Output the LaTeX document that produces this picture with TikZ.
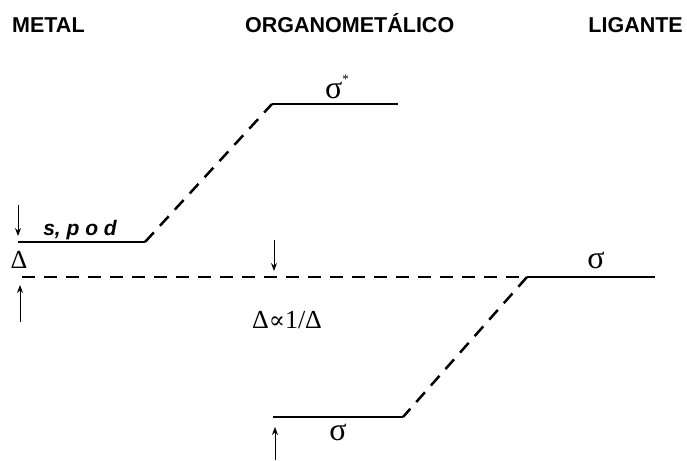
\documentclass[tikz,border=0pt]{standalone}
\usepackage{fontspec}
\setmainfont{Liberation Serif}
\newfontfamily\headfont{Liberation Sans}
\newfontfamily\symfont{DejaVu Serif}
\usetikzlibrary{arrows.meta}
\begin{document}
\begin{tikzpicture}[x=1pt,y=-1pt,
  level/.style={line width=2.5pt},
  conn/.style={line width=2.5pt,dash pattern=on 13pt off 9pt},
  gap/.style={line width=0.9pt,-{Stealth[length=8pt,width=6pt]}},
  head/.style={font=\headfont\bfseries\fontsize{21.5}{25}\selectfont,inner sep=0pt},
  sym/.style={font=\fontsize{32}{36}\selectfont,inner sep=0pt}]
\useasboundingbox (0,0) rectangle (687,460);
% headings
\node[head,anchor=base west] (hmetal) at (12,33) {METAL};
\node[head,anchor=base west] (horg) at (245,33) {ORGANOMETÁLICO};
\node[head,anchor=base east] (hlig) at (683,33) {LIGANTE};
% level end points
\coordinate (m1) at (18,242);
\coordinate (m2) at (145,242);
\coordinate (s1) at (272,104);
\coordinate (s2) at (398,104);
\coordinate (b1) at (273,417);
\coordinate (b2) at (403,417);
\coordinate (l1) at (527,277);
\coordinate (l2) at (655,277);
\coordinate (d1) at (22,277);
% levels
\draw[level] (m1) -- (m2);
\draw[level] (s1) -- (s2);
\draw[level] (b1) -- (b2);
\draw[level] (l1) -- (l2);
% connectors
\draw[conn] (m2) -- (s1);
\draw[conn] (l1) -- (b2);
\draw[conn] (d1) -- (l1);
% labels
\node[font=\headfont\bfseries\itshape\fontsize{21}{24}\selectfont,inner sep=0pt,anchor=base] (spd) at (80,235) {s, p o d};
\node[sym,anchor=base west] (sstar) at (325,98) {σ\raisebox{1.0ex}{\fontsize{13}{15}\selectfont *}};
\node[sym,anchor=base] (slig) at (596,268) {σ};
\node[sym,anchor=base] (sbot) at (338,440) {σ};
\node[font=\fontsize{26}{30}\selectfont,inner sep=0pt,anchor=base] (dmetal) at (19,268) {Δ};
\node[font=\fontsize{26}{30}\selectfont,inner sep=0pt,anchor=base] (ratio) at (287,328) {Δ{\symfont\fontsize{24}{28}\selectfont ∝}1/Δ};
% gap arrows
\coordinate (a1s) at (18,205);
\coordinate (a1e) at (18,236);
\coordinate (a2s) at (20,322);
\coordinate (a2e) at (20,285);
\coordinate (a3s) at (274,240);
\coordinate (a3e) at (274,271);
\coordinate (a4s) at (275,460);
\coordinate (a4e) at (275,427);
\draw[gap] (a1s) -- (a1e);
\draw[gap] (a2s) -- (a2e);
\draw[gap] (a3s) -- (a3e);
\draw[gap] (a4s) -- (a4e);
\end{tikzpicture}
\end{document}
